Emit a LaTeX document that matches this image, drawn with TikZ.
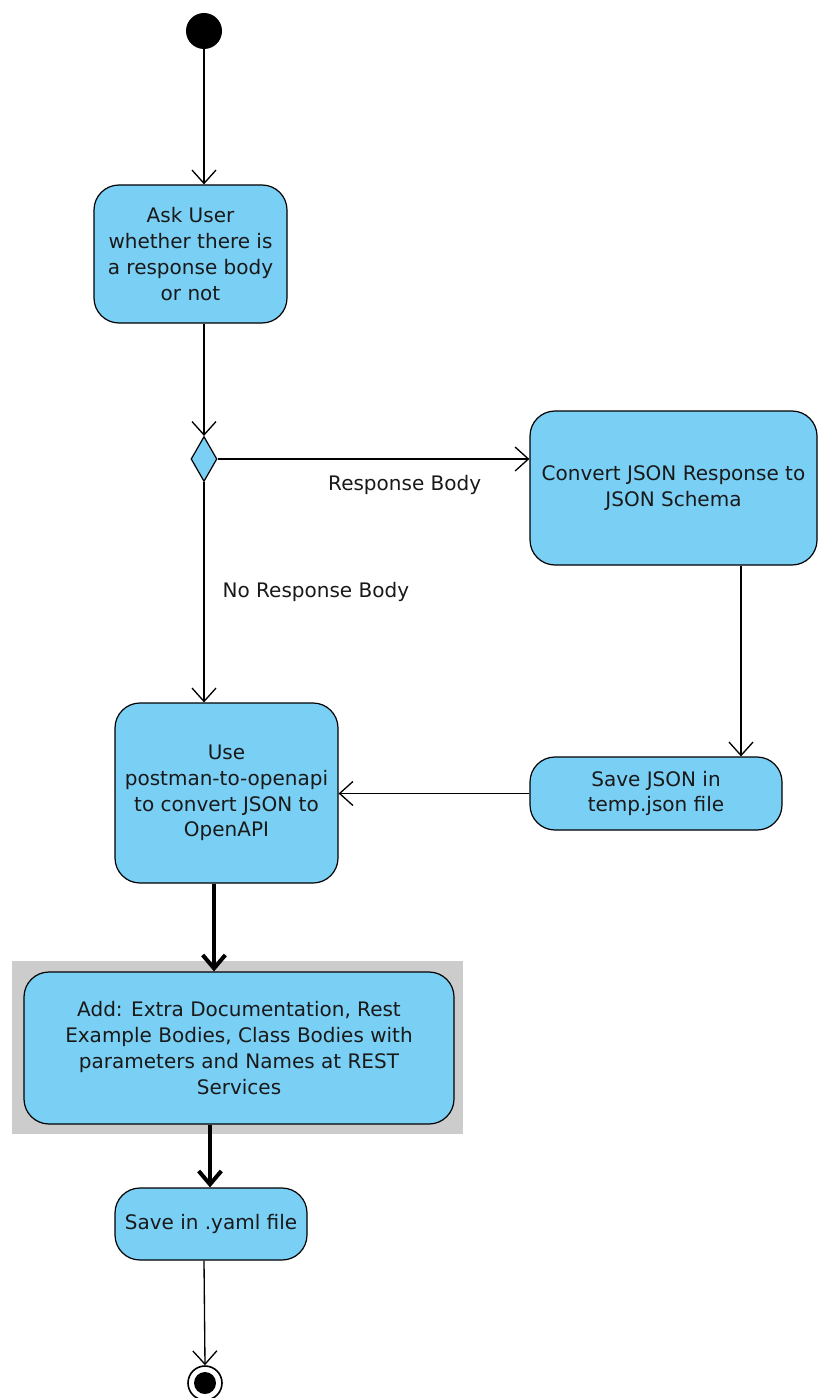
\documentclass[tikz,border=0pt]{standalone}
\usepackage{fontspec}
\setmainfont{DejaVu Sans}
\usetikzlibrary{arrows.meta,shapes.geometric}
\definecolor{actfill}{RGB}{122,207,245}
\definecolor{txt}{RGB}{25,25,25}
\definecolor{greybg}{RGB}{204,204,204}
\tikzset{
  act/.style={draw=black, fill=actfill, rounded corners=25*0.75pt, line width=0.9pt,
    align=center, text=txt, font=\fontsize{15pt}{19.3pt}\selectfont, inner sep=0pt},
  flow/.style={draw=black, line width=1pt, -{Straight Barb[length=10pt,width=18pt,line width=1pt]}},
  thickflow/.style={draw=black, line width=3.2pt, -{Straight Barb[length=10pt,width=17pt,line width=3pt]}},
  plain/.style={draw=black, line width=1pt},
  lbl/.style={text=txt, font=\fontsize{15pt}{18.75pt}\selectfont, inner sep=0pt}
}
\begin{document}
\begin{tikzpicture}[x=0.75pt,y=-0.75pt]
\useasboundingbox (0,0) rectangle (817,1398);
% start
\node[circle, fill=black, minimum size=36*0.75pt, inner sep=0pt] (start) at (204,31) {};
% Ask user
\node[act, minimum width=193*0.75pt, minimum height=138*0.75pt] (ask) at (190.5,254) {Ask User\\whether there is\\a response body\\or not};
% decision
\node[diamond, draw=black, fill=actfill, line width=0.9pt, minimum width=26*0.75pt, minimum height=45*0.75pt, inner sep=0pt] (dec) at (204,459) {};
% convert
\node[act, minimum width=287*0.75pt, minimum height=154*0.75pt] (conv) at (673.5,488) {Convert JSON Response to\\JSON Schema};
% save json
\node[act, minimum width=252*0.75pt, minimum height=73*0.75pt] (savejson) at (656,793.5) {Save JSON in\\temp.json file};
% use
\node[act, minimum width=223*0.75pt, minimum height=180*0.75pt] (use) at (226.5,793) {Use\\postman-to-openapi\\to convert JSON to\\OpenAPI};
% grey background
\fill[greybg] (12,961) rectangle (463,1134);
% add
\node[act, minimum width=430*0.75pt, minimum height=152*0.75pt] (add) at (239,1048) {Add: Extra Documentation, Rest\\Example Bodies, Class Bodies with\\parameters and Names at REST\\Services};
% save yaml
\node[act, minimum width=192*0.75pt, minimum height=72*0.75pt] (yaml) at (211,1224) {Save in .yaml file};
% end
\node[circle, draw=black, line width=1.2pt, fill=white, minimum size=34*0.75pt, inner sep=0pt] (end) at (205,1383) {};
\node[circle, fill=black, minimum size=22*0.75pt, inner sep=0pt] (endin) at (205,1383) {};
% connectors
\draw[flow] (start) -- (ask.north -| start);
\draw[flow] (ask.south -| dec) -- (dec.north);
\draw[flow] (dec.east) -- (dec.east -| conv.west) node[lbl, pos=0.6, below=16*0.75pt] {Response Body};
\draw[flow] (dec.south) -- (use.north -| dec) node[lbl, pos=0.5, right=18*0.75pt] {No Response Body};
\coordinate (c1) at (741,0);
\draw[flow] (conv.south -| c1) -- (savejson.north -| c1);
\draw[flow] (savejson.west) -- (savejson.west -| use.east);
\coordinate (c2) at (214,0);
\draw[thickflow] (use.south -| c2) -- (add.north -| c2);
\coordinate (c3) at (210,0);
\draw[thickflow] (add.south -| c3) -- (yaml.north -| c3);
\draw[flow] (yaml.south -| start) -- (end.north);
\end{tikzpicture}
\end{document}
